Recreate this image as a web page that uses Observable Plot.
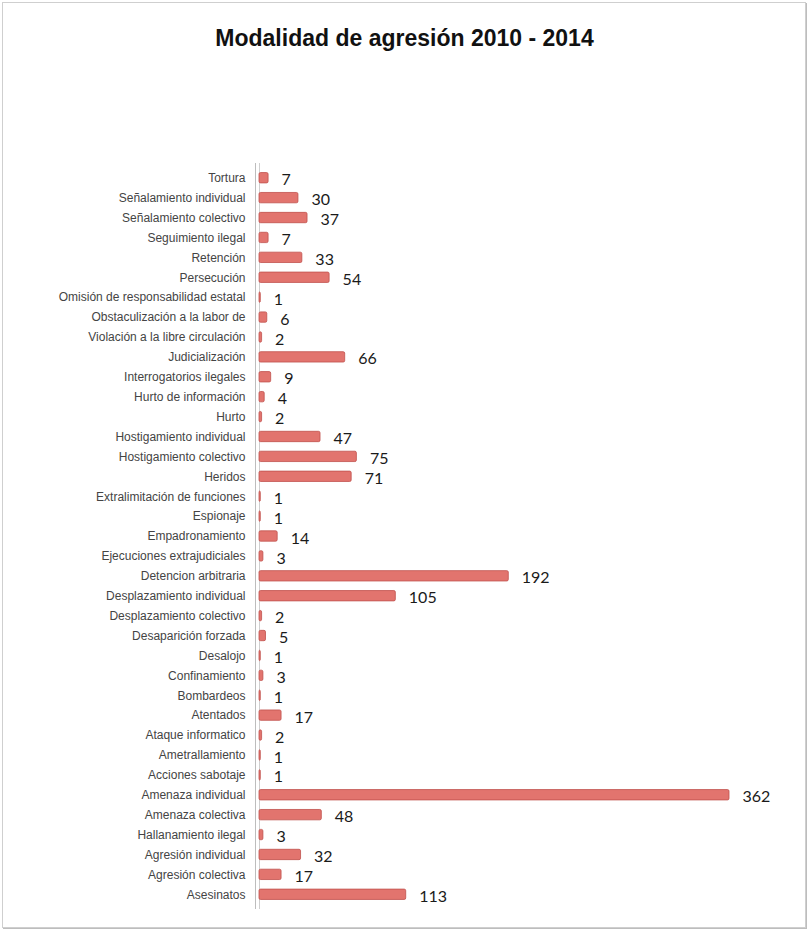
<!DOCTYPE html>
<html>
<head>
<meta charset="utf-8">
<script src="https://cdn.jsdelivr.net/npm/d3@7"></script>
<script src="https://cdn.jsdelivr.net/npm/@observablehq/plot@0.6"></script>
<style>
  html, body { margin: 0; padding: 0; background: #fff; }
  #wrap { position: relative; width: 809px; height: 932px; overflow: hidden; }
  #frame { position: absolute; left: 2px; top: 2px; width: 802px; height: 924px;
           border: 1px solid #cfcfcf; box-shadow: 1px 1px 0 #bdbdbd; }
  #title { position: absolute; left: 0; width: 809px; top: 24px; text-align: center;
           font-family: "Liberation Sans", Arial, sans-serif; font-weight: bold; font-size: 23px;
           color: #111; line-height: 28px; }
  #chart { position: absolute; left: 0; top: 60px; }
</style>
</head>
<body>
<div id="wrap">
  <div id="frame"></div>
  <div id="title">Modalidad de agresión 2010 - 2014</div>
  <div id="chart"></div>
</div>
<script>
const categories = [
  "Tortura", "Señalamiento individual", "Señalamiento colectivo", "Seguimiento ilegal",
  "Retención", "Persecución", "Omisión de responsabilidad estatal", "Obstaculización a la labor de",
  "Violación a la libre circulación", "Judicialización", "Interrogatorios ilegales", "Hurto de información",
  "Hurto", "Hostigamiento individual", "Hostigamiento colectivo", "Heridos",
  "Extralimitación de funciones", "Espionaje", "Empadronamiento", "Ejecuciones extrajudiciales",
  "Detencion arbitraria", "Desplazamiento individual", "Desplazamiento colectivo", "Desaparición forzada",
  "Desalojo", "Confinamiento", "Bombardeos", "Atentados",
  "Ataque informatico", "Ametrallamiento", "Acciones sabotaje", "Amenaza individual",
  "Amenaza colectiva", "Hallanamiento ilegal", "Agresión individual", "Agresión colectiva",
  "Asesinatos"
];
const values = [
  7, 30, 37, 7,
  33, 54, 1, 6,
  2, 66, 9, 4,
  2, 47, 75, 71,
  1, 1, 14, 3,
  192, 105, 2, 5,
  1, 3, 1, 17,
  2, 1, 1, 362,
  48, 3, 32, 17,
  113
];

const data = categories.map((c, i) => ({category: c, value: values[i]}));

const chart = Plot.plot({
  width: 809,
  height: 872,
  marginLeft: 259,
  marginRight: 80,
  marginTop: 103,
  marginBottom: 23,
  x: {domain: [0, 362], range: [259, 729], axis: null},
  y: {domain: categories, padding: 0.48, label: null},
  style: {background: "transparent"},
  marks: [
    Plot.ruleX([0], {stroke: "#bdbdbd", strokeWidth: 1, dx: -4}),
    Plot.ruleX([0], {stroke: "#cfcfcf", strokeWidth: 1}),
    Plot.barX(data, {x: "value", y: "category", fill: "#e2746e", stroke: "#c0504d", strokeWidth: 0.8, rx: 1.5}),
    Plot.text(data, {x: "value", y: "category", text: d => String(d.value), textAnchor: "start", dx: 13, dy: 2,
      fontSize: 16, fill: "#1a1a1a", fontFamily: "Lato, 'Open Sans', sans-serif"}),
    Plot.axisY({tickSize: 0, tickPadding: 14, fontSize: 12, fill: "#444",
      fontFamily: "'Liberation Sans', Arial, sans-serif", label: null})
  ]
});
document.getElementById("chart").appendChild(chart);
</script>
</body>
</html>
